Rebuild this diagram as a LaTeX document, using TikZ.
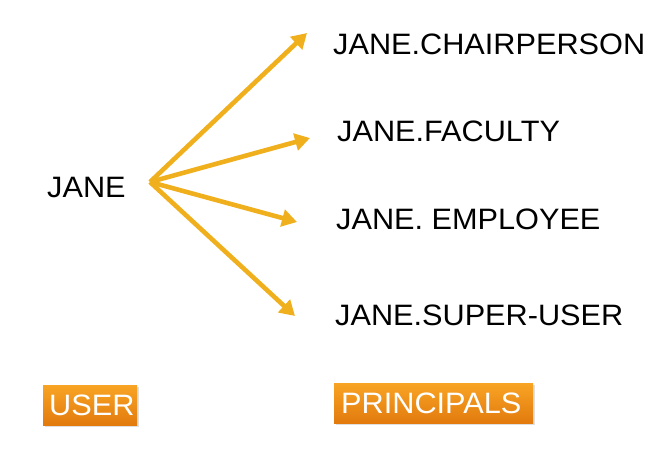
\documentclass[tikz,border=0pt]{standalone}
\usepackage{fontspec}
\setmainfont{Liberation Sans}
\usetikzlibrary{arrows.meta,shadows}
\definecolor{arrowgold}{RGB}{240,176,30}
\definecolor{boxtop}{RGB}{248,164,36}
\definecolor{boxbot}{RGB}{226,122,14}
\tikzset{
  lbl/.style={anchor=base west,inner sep=0pt,font=\fontsize{29.5}{29.5}\selectfont,text=black},
  conn/.style={draw=arrowgold,line width=4.6pt,-{Triangle[length=15pt,width=17pt]}},
  tagbox/.style={anchor=north west,inner sep=0pt,top color=boxtop,bottom color=boxbot,draw=none,
    drop shadow={shadow xshift=1.5pt,shadow yshift=-1.5pt,opacity=0.25},
    font=\fontsize{29.5}{29.5}\selectfont,text=white}
}
\newcommand{\wide}[1]{\scalebox{1.04}[1]{#1}}
\begin{document}
\begin{tikzpicture}[x=1pt,y=-1pt]
\useasboundingbox (0,0) rectangle (671,448);
\coordinate (o) at (150,182);
\node[lbl] (jane) at (47,197) {\wide{JANE}};
\node[lbl] (chair) at (333,54) {\wide{JANE.CHAIRPERSON}};
\node[lbl] (fac) at (337,141) {\wide{JANE.FACULTY}};
\node[lbl] (emp) at (336,229) {\wide{JANE. EMPLOYEE}};
\node[lbl] (sup) at (335,325) {\wide{JANE.SUPER-USER}};
\coordinate (t1) at (307,33);
\coordinate (t2) at (310,138);
\coordinate (t3) at (297,222);
\coordinate (t4) at (295,316);
\draw[conn] (o) -- (t1);
\draw[conn] (o) -- (t2);
\draw[conn] (o) -- (t3);
\draw[conn] (o) -- (t4);
\node[tagbox,minimum width=94pt,minimum height=40pt] (user) at (43,385) {};
\node[anchor=base west,inner sep=0pt,font=\fontsize{29.5}{29.5}\selectfont,text=white] (usert) at (49,415) {\wide{USER}};
\node[tagbox,minimum width=199pt,minimum height=40pt] (princ) at (334,383) {};
\node[anchor=base west,inner sep=0pt,font=\fontsize{29.5}{29.5}\selectfont,text=white] (princt) at (341,413) {\wide{PRINCIPALS}};
\end{tikzpicture}
\end{document}
